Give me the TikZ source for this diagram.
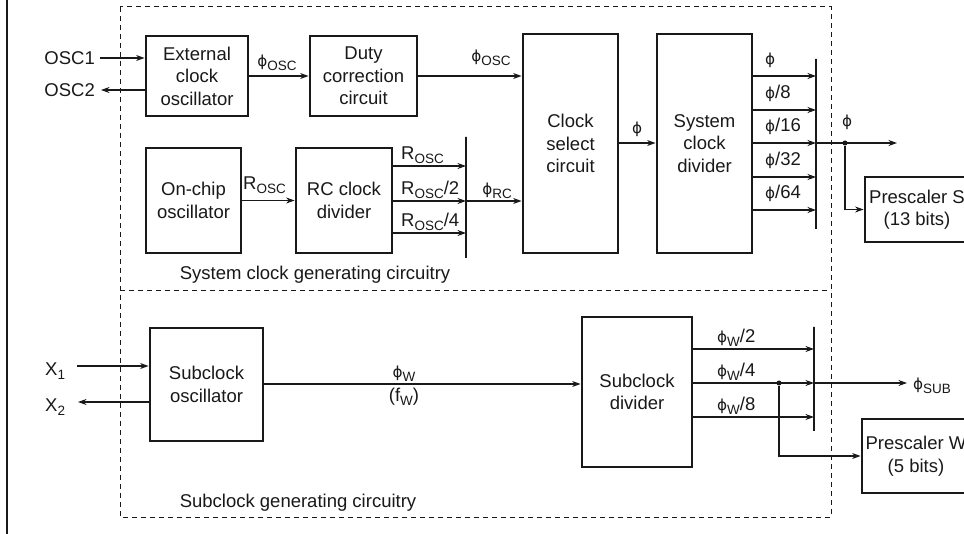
\documentclass[tikz,border=0pt]{standalone}
\usepackage{fontspec}
\setmainfont{Liberation Sans}
\newfontfamily\phifont{DejaVu Sans}[Scale=0.82]
\usetikzlibrary{arrows.meta}
\definecolor{ink}{gray}{0.1}
\newcommand\ph{{\phifont ϕ}}
\newcommand\sub[1]{\raisebox{-3.5pt}{\fontsize{13.5}{13.5}\selectfont #1}}
\begin{document}
\begin{tikzpicture}[x=1pt,y=-1pt,
  font=\fontsize{18.5}{22.5}\selectfont,
  box/.style={draw=ink, line width=2.8pt, align=center, inner sep=0pt, text=ink},
  lbl/.style={inner sep=0pt, text=ink},
  arr/.style={draw=ink, line width=1.2pt, -{Stealth[length=8.5pt,width=6pt]}},
  wire/.style={draw=ink, line width=1.2pt},
  busbar/.style={shape=rectangle, draw=ink, line width=1.4pt, inner sep=0pt, minimum width=0pt},
  dashframe/.style={draw=ink, line width=1pt, dash pattern=on 5pt off 4pt},
  dot/.style={circle, fill=ink, inner sep=0pt, minimum size=5pt}]

\useasboundingbox (0,0) rectangle (964,534);
\clip (0,0) rectangle (964,534);
\fill[white] (0,0) rectangle (964,534);

% left border
\draw[draw=ink, line width=2.8pt] (7,0) -- (7,534);

% dashed frames
\draw[dashframe] (120,7) rectangle (831,517);
\draw[dashframe] (120,291) -- (831,291);

% boxes
\node[box, minimum width=102pt, minimum height=80pt] (ext) at (197,76) {External\\clock\\oscillator};
\node[box, minimum width=107pt, minimum height=80pt] (duty) at (363.5,76) {Duty\\correction\\circuit};
\node[box, minimum width=95pt, minimum height=219pt] (csel) at (570.5,143.5) {Clock\\select\\circuit};
\node[box, minimum width=95pt, minimum height=219pt] (sdiv) at (704.5,143.5) {System\\clock\\divider};
\node[box, minimum width=95pt, minimum height=105pt] (onchip) at (193.5,200.5) {On-chip\\oscillator};
\node[box, minimum width=96pt, minimum height=105pt] (rcdiv) at (344,200.5) {RC clock\\divider};
\node[box, minimum width=104pt, minimum height=65pt] (preS) at (917,209.5) {Prescaler S\\(13 bits)};
\node[box, minimum width=113pt, minimum height=113pt] (subosc) at (206.5,384.5) {Subclock\\oscillator};
\node[box, minimum width=110pt, minimum height=150pt] (subdiv) at (637,392) {Subclock\\divider};
\node[box, minimum width=108pt, minimum height=74pt] (preW) at (916,456) {Prescaler W\\(5 bits)};

% bus bars
\node[busbar, minimum height=121pt] (rcbar) at (466,197.5) {};
\node[busbar, minimum height=170pt] (sbar) at (816,144) {};
\node[busbar, minimum height=104pt] (wbar) at (814,379) {};

% external pins
\coordinate (o1s) at (100,58);
\coordinate (o2e) at (101,90);
\draw[arr] (o1s) -- (ext.west |- o1s);
\draw[arr] (ext.west |- o2e) -- (o2e);
\node[lbl, anchor=base east] (osc1) at (95,65) {OSC1};
\node[lbl, anchor=base east] (osc2) at (95,97) {OSC2};

% phi_osc
\draw[arr] (ext.east) -- (duty.west);
\node[lbl, anchor=base] (lo1) at (277,67) {\ph\sub{OSC}};
\draw[arr] (duty.east) -- (csel.west |- duty.east);
\node[lbl, anchor=base] (lo2) at (491,62) {\ph\sub{OSC}};

% on-chip -> RC divider
\draw[arr] (onchip) -- (rcdiv);
\node[lbl, anchor=base west] (lrosc) at (243,190) {R\sub{OSC}};

% RC outputs
\foreach \y/\t in {166/{R\sub{OSC}}, 201/{R\sub{OSC}/2}, 233/{R\sub{OSC}/4}} {
  \draw[arr] (rcdiv.east |- 0,\y) -- (rcbar |- 0,\y);
  \node[lbl, anchor=base west] (lr\y) at (401,\y-6) {\t};
}
\draw[arr] (rcbar |- 0,201) -- (csel.west |- 0,201);
\node[lbl, anchor=base] (lrc) at (497,195) {\ph\sub{RC}};

% clock select -> system divider
\draw[arr] (csel.east |- 0,143) -- (sdiv.west |- 0,143);
\node[lbl, anchor=base] (lphi1) at (637,134) {\ph};

% system divider outputs
\foreach \y/\t in {76/{\ph}, 110/{\ph/8}, 143/{\ph/16}, 177/{\ph/32}, 210/{\ph/64}} {
  \draw[arr] (sdiv.east |- 0,\y) -- (sbar |- 0,\y);
  \node[lbl, anchor=base west] (ls\y) at (765,\y-11) {\t};
}
\coordinate (phiend) at (897,143);
\node[dot] (d1) at (845,143) {};
\draw[arr] (sbar |- 0,143) -- (phiend);
\draw[arr] (d1) |- (preS.west);
\node[lbl, anchor=base] (lphi2) at (847,127) {\ph};

\node[lbl] (sysl) at (315,275) {System clock generating circuitry};

% subclock pins
\coordinate (x1s) at (77,366);
\coordinate (x2e) at (78,402);
\draw[arr] (x1s) -- (subosc.west |- x1s);
\draw[arr] (subosc.west |- x2e) -- (x2e);
\node[lbl, anchor=base west] (x1) at (45,376) {X\sub{1}};
\node[lbl, anchor=base west] (x2) at (45,412) {X\sub{2}};

% phi_W
\draw[arr] (subosc.east |- 0,384) -- (subdiv.west |- 0,384);
\node[lbl, anchor=base] (lw) at (404,378) {\ph\sub{W}};
\node[lbl, anchor=base] (lfw) at (404,402) {(f\sub{W})};

% subclock divider outputs
\foreach \y/\t in {349/{\ph\sub{W}/2}, 383/{\ph\sub{W}/4}, 417/{\ph\sub{W}/8}} {
  \draw[arr] (subdiv.east |- 0,\y) -- (wbar |- 0,\y);
  \node[lbl, anchor=base west] (lw\y) at (717,\y-6) {\t};
}
\coordinate (subend) at (907,383);
\node[dot] (d2) at (779,383) {};
\draw[arr] (wbar |- 0,383) -- (subend);
\draw[arr] (d2) |- (preW.west);
\node[lbl, anchor=base west] (lsub) at (913,390) {\ph\sub{SUB}};

\node[lbl] (subl) at (298,503) {Subclock generating circuitry};
\end{tikzpicture}
\end{document}
